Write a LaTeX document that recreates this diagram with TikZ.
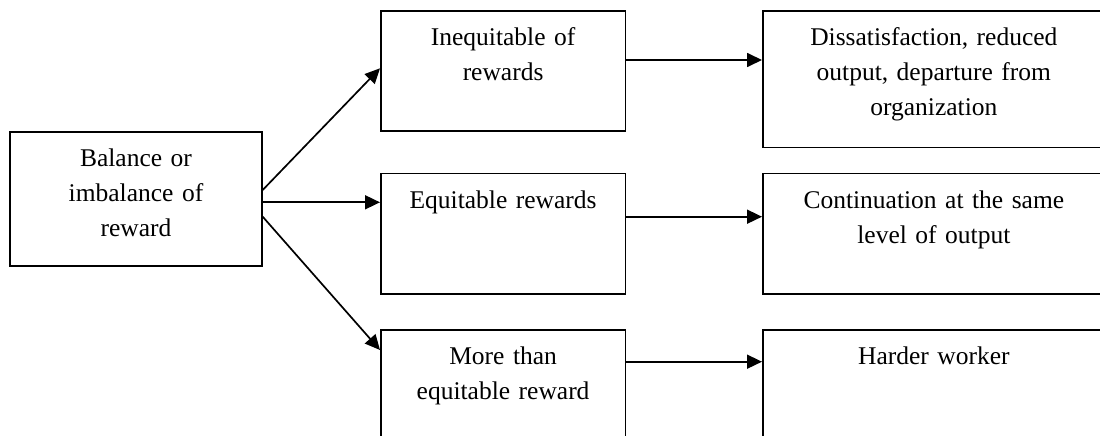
\documentclass[tikz,border=0pt]{standalone}
\usepackage{fontspec}
\setmainfont{Liberation Serif}
\usetikzlibrary{arrows.meta}
\begin{document}
\begin{tikzpicture}[x=1pt,y=-1pt,
  box/.style={draw, line width=1.7pt, inner sep=0pt, text height=35pt,
    align=center, anchor=north west, font=\fontsize{25.5}{35}\selectfont},
  arr/.style={line width=1.7pt, -{Triangle[length=15pt,width=14pt]}}]
\useasboundingbox (0,0) rectangle (1100,436);
\clip (0,0) rectangle (1100,436);

% source box
\node[box, text width=251.7pt, text depth=99pt] (bal) at (9.3,131)
  {Balance or\\imbalance of\\reward};

% middle column
\node[box, text width=244.5pt, text depth=85pt] (ineq) at (380,10)
  {Inequitable of\\rewards};
\node[box, text width=244.5pt, text depth=85.6pt] (eq) at (380,172.7)
  {Equitable rewards};
\node[box, text width=244.5pt, text depth=95pt] (more) at (380,329)
  {More than\\equitable reward};

% right column
\node[box, text width=342pt, text depth=101.7pt] (dis) at (762,10)
  {Dissatisfaction, reduced\\output, departure from\\organization};
\node[box, text width=342pt, text depth=85.6pt] (cont) at (762,172.7)
  {Continuation at the same\\level of output};
\node[box, text width=342pt, text depth=95pt] (hard) at (762,329)
  {Harder worker};

% connectors
\draw[arr] ([yshift=-59pt]bal.north east) -- ([yshift=-58.3pt]ineq.north west);
\draw[arr] ([yshift=-71.3pt]bal.north east) -- ([yshift=-29.6pt]eq.north west);
\draw[arr] ([yshift=-85.7pt]bal.north east) -- ([yshift=-21pt]more.north west);

\draw[arr] ([yshift=-50pt]ineq.north east) -- ([yshift=-50pt]dis.north west);
\draw[arr] ([yshift=-44pt]eq.north east) -- ([yshift=-44pt]cont.north west);
\draw[arr] ([yshift=-32.7pt]more.north east) -- ([yshift=-32.7pt]hard.north west);
\end{tikzpicture}
\end{document}
